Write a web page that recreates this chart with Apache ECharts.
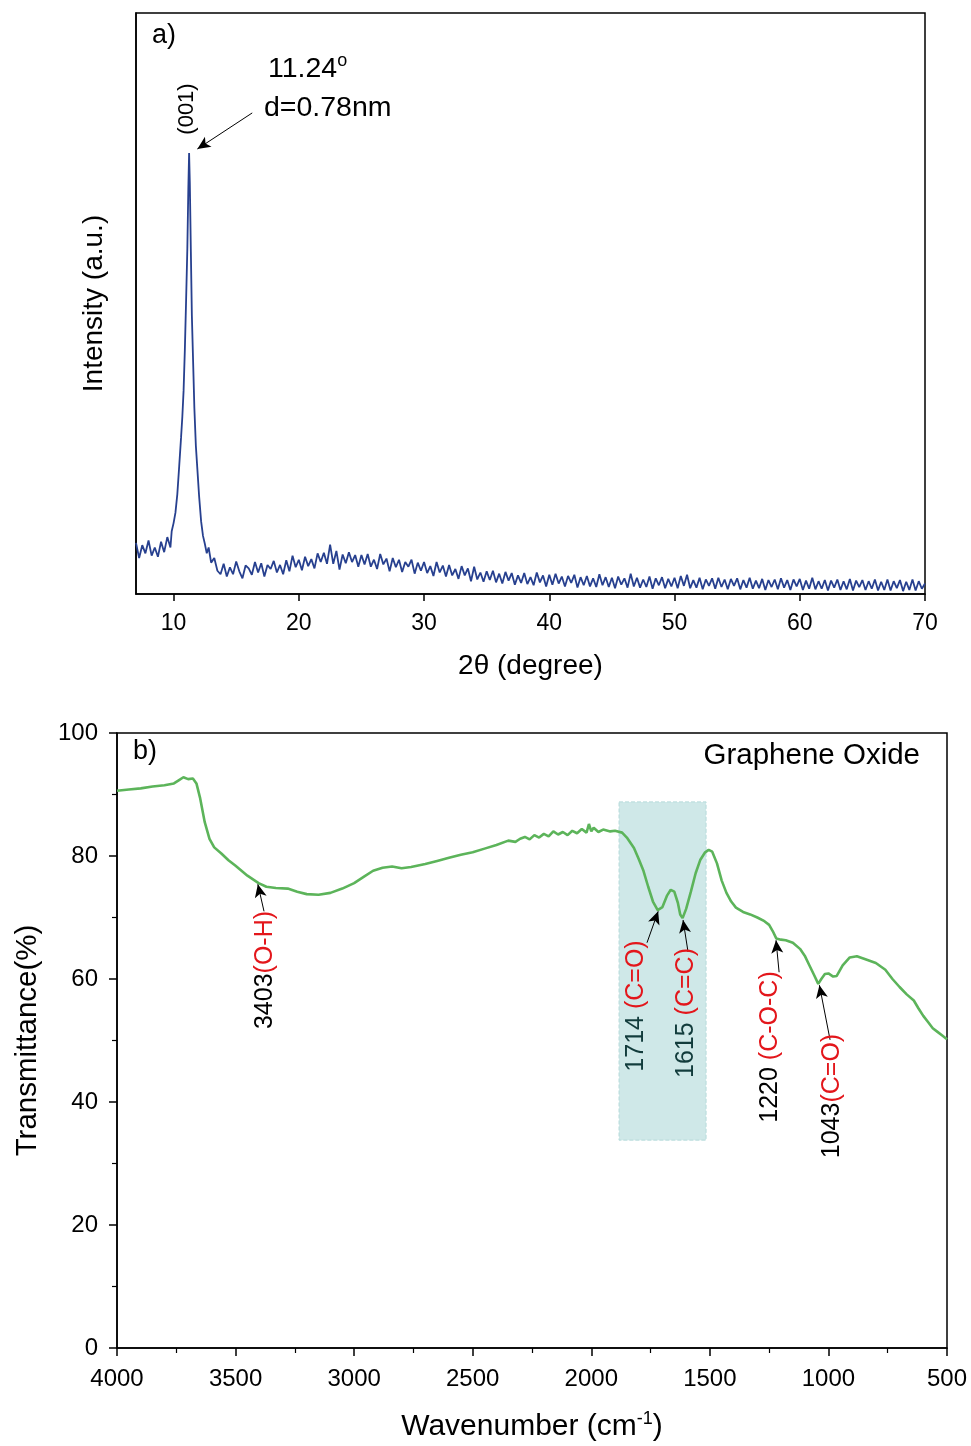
<!DOCTYPE html>
<html>
<head>
<meta charset="utf-8">
<script src="https://cdn.jsdelivr.net/npm/echarts@6/dist/echarts.min.js"></script>
<style>
  html, body { margin: 0; padding: 0; background: #fff; }
  #root { width: 971px; height: 1446px; }
</style>
</head>
<body>
<div id="root"></div>
<script>
// ---- a) XRD pattern ----
// 7.00 .. 9.75, step 0.25
var xrdLowStart = 7, xrdStep = 0.25;
var xrdLow = [88, 62, 84, 70, 92, 66, 80, 64, 90, 72, 98, 80];
// (001) peak region, read point by point
var xrdPeakAngle = [9.85, 10.0, 10.15, 10.3, 10.45, 10.6, 10.7, 10.8, 10.9, 11.0, 11.1, 11.18, 11.24,
  11.3, 11.38, 11.46, 11.56, 11.66, 11.78, 11.9, 12.04, 12.2, 12.35, 12.5, 12.65, 12.8, 13.0, 13.25, 13.5];
var xrdPeakIntensity = [108, 122, 140, 172, 220, 270, 305, 350, 420, 505, 595, 700, 759,
  705, 590, 480, 400, 320, 255, 215, 168, 125, 100, 86, 70, 80, 54, 62, 40];
// 13.75 .. 70.00, step 0.25
var xrdHighStart = 13.75;
var xrdHigh = [
  34,
  52, 30, 46, 34,  56, 39, 27, 49,  44, 33, 55, 37,  53, 30, 50, 43,  57, 37, 50, 34,
  58, 39, 66, 46,  59, 41, 64, 48,  60, 44, 70, 55,  71, 52, 85, 52,  74, 42, 68, 53,
  72, 55, 67, 47,  67, 51, 69, 47,  59, 43, 69, 51,  61, 39, 62, 46,  59, 38, 55, 47,
  59, 35, 54, 40,  55, 36, 48, 31,  55, 37, 49, 30,  50, 32, 43, 26,  48, 32, 44, 22,
  47, 25, 37, 21,  39, 24, 40, 20,  35, 18, 38, 23,  36, 16, 32, 19,  36, 17, 29, 15,
  37, 20, 32, 13,  33, 16, 35, 18,  30, 13, 31, 19,  33, 11, 29, 15,  31, 13, 27, 12,
  34, 15, 29, 12,  28, 10, 30, 16,  27, 11, 35, 13,  28, 11, 25, 12,  30, 9, 27, 15,
  29, 10, 26, 13,  28, 10, 31, 14,  33, 10, 24, 11,  28, 8, 25, 14,  27, 9, 28, 12,
  25, 8, 26, 14,  27, 8, 24, 11,  28, 9, 23, 10,  26, 7, 24, 12,  25, 8, 27, 11,
  24, 7, 25, 13,  26, 7, 23, 9,  28, 8, 22, 9,  24, 6, 23, 11,  25, 7, 22, 8,
  26, 6, 23, 12,  24, 7, 22, 9,  25, 6, 21, 7,  25, 6, 22, 10,  24, 5, 21, 7,
  25, 6, 22, 9,
  18
];

// ---- b) FTIR spectrum ----
var ftirWavenumber = [4000, 3950, 3900, 3850, 3800, 3760, 3740, 3720, 3700, 3680, 3665, 3650, 3630, 3610,
  3590, 3560, 3530, 3500, 3450, 3403, 3370, 3330, 3280, 3240, 3200, 3150, 3100, 3050, 3000, 2960, 2920,
  2880, 2840, 2800, 2760, 2700, 2650, 2600, 2550, 2500, 2450, 2400, 2350, 2320, 2300, 2280, 2260, 2240,
  2220, 2200, 2180, 2160, 2140, 2120, 2100, 2080, 2060, 2040, 2020, 2010, 2000, 1990, 1970, 1950, 1920,
  1900, 1870, 1850, 1820, 1800, 1780, 1760, 1740, 1720, 1714, 1700, 1680, 1665, 1650, 1635, 1625, 1615,
  1600, 1580, 1560, 1540, 1520, 1505, 1490, 1470, 1450, 1430, 1410, 1390, 1360, 1330, 1300, 1270, 1250,
  1235, 1220, 1200, 1180, 1150, 1120, 1100, 1080, 1060, 1043, 1030, 1015, 1000, 980, 965, 940, 910, 880,
  850, 800, 760, 730, 700, 670, 640, 620, 600, 580, 560, 540, 520, 500];
var ftirTransmittance = [90.6, 90.8, 91.0, 91.3, 91.5, 91.8, 92.3, 92.8, 92.5, 92.6, 91.8, 89.5, 85.5, 82.8,
  81.4, 80.4, 79.3, 78.4, 76.8, 75.6, 75.0, 74.8, 74.7, 74.2, 73.8, 73.7, 74.0, 74.7, 75.6, 76.6, 77.6,
  78.1, 78.3, 78.0, 78.2, 78.7, 79.2, 79.7, 80.2, 80.6, 81.2, 81.8, 82.5, 82.3, 82.8, 83.1, 82.7, 83.4,
  83.0, 83.6, 83.2, 84.0, 83.5, 83.9, 83.4, 84.1, 83.7, 84.4, 83.8, 85.2, 84.0, 84.6, 83.9, 84.3, 84.0,
  84.1, 83.8, 83.0, 81.3, 79.5, 77.6, 75.0, 72.6, 71.2, 71.1, 71.7, 73.6, 74.5, 74.2, 72.4, 70.5, 69.9,
  71.4, 74.2, 77.2, 79.4, 80.6, 81.0, 80.7, 78.8, 76.0, 74.0, 72.6, 71.6, 70.9, 70.5, 70.0, 69.4, 68.8,
  67.8, 66.6, 66.4, 66.3, 65.9, 64.9, 63.8, 62.2, 60.6, 59.2, 60.0, 60.8, 60.9, 60.4, 60.5, 62.2, 63.5, 63.7,
  63.3, 62.6, 61.5, 60.0, 58.7, 57.5, 56.5, 55.2, 54.0, 53.0, 52.0, 51.4, 50.8, 50.2];

var xrdTicks = [10, 20, 30, 40, 50, 60, 70];

var xrdData = [];
xrdLow.forEach(function (v, i) { xrdData.push([xrdLowStart + i * xrdStep, v]); });
xrdPeakAngle.forEach(function (a, i) { xrdData.push([a, xrdPeakIntensity[i]]); });
xrdHigh.forEach(function (v, i) { xrdData.push([xrdHighStart + i * xrdStep, v]); });
var ftirData = ftirWavenumber.map(function (w, i) { return [w, ftirTransmittance[i]]; });

var FONT = '"Liberation Sans", Arial, sans-serif';
var chart = echarts.init(document.getElementById('root'));

var arrowLine = {
  symbol: ['none', 'arrow'],
  symbolSize: [9, 13],
  silent: true,
  label: { show: false },
  lineStyle: { color: '#000', width: 1, type: 'solid' }
};

function rotLabel(x, y, num, group, numColor, gap) {
  return {
    type: 'text', x: x, y: y, z: 50, rotation: Math.PI / 2,
    style: {
      text: '{n|' + num + gap + '}{g|' + group + '}', align: 'center', verticalAlign: 'middle',
      rich: {
        n: { fontFamily: FONT, fontSize: 25, fill: numColor },
        g: { fontFamily: FONT, fontSize: 25, fill: '#e3161b' }
      }
    }
  };
}

chart.setOption({
  animation: false,
  backgroundColor: '#fff',
  grid: [
    { left: 136, top: 13, width: 789, height: 581, show: true, borderColor: '#000', borderWidth: 1.5 },
    { left: 117, top: 733, width: 830, height: 615, show: true, borderColor: '#000', borderWidth: 1.5 }
  ],
  xAxis: [
    {
      gridIndex: 0, type: 'value', min: 7, max: 70,
      name: '2\u03b8 (degree)', nameLocation: 'middle', nameGap: 58,
      nameTextStyle: { fontFamily: FONT, fontSize: 28, color: '#000' },
      axisLine: { lineStyle: { color: '#000', width: 1.5 } },
      axisTick: { show: true, length: 7, customValues: xrdTicks, lineStyle: { color: '#000', width: 1.5 } },
      axisLabel: { customValues: xrdTicks, margin: 18, fontFamily: FONT, fontSize: 23, color: '#000' },
      splitLine: { show: false }
    },
    {
      gridIndex: 1, type: 'value', min: 500, max: 4000, interval: 500, inverse: true,
      name: 'Wavenumber (cm{sup|-1})', nameLocation: 'middle', nameGap: 62,
      nameTextStyle: {
        fontFamily: FONT, fontSize: 30, color: '#000',
        rich: { sup: { fontFamily: FONT, fontSize: 18, color: '#000', verticalAlign: 'top', padding: [0, 0, 15, 0] } }
      },
      axisLine: { lineStyle: { color: '#000', width: 1.5 } },
      axisTick: { show: true, length: 8, lineStyle: { color: '#000', width: 1.5 } },
      minorTick: { show: true, splitNumber: 2, length: 5, lineStyle: { color: '#000', width: 1.2 } },
      axisLabel: { margin: 19, fontFamily: FONT, fontSize: 24, color: '#000', formatter: function (v) { return String(v); } },
      splitLine: { show: false }
    }
  ],
  yAxis: [
    {
      gridIndex: 0, type: 'value', min: 0, max: 1000,
      name: 'Intensity (a.u.)', nameLocation: 'middle', nameGap: 28,
      nameTextStyle: { fontFamily: FONT, fontSize: 28, color: '#000' },
      axisLine: { show: true, lineStyle: { color: '#000', width: 1.5 } },
      axisTick: { show: false }, axisLabel: { show: false }, splitLine: { show: false }
    },
    {
      gridIndex: 1, type: 'value', min: 0, max: 100, interval: 20,
      name: 'Transmittance(%)', nameLocation: 'middle', nameGap: 74,
      nameTextStyle: { fontFamily: FONT, fontSize: 29.5, color: '#000' },
      axisLine: { show: true, lineStyle: { color: '#000', width: 1.5 } },
      axisTick: { show: true, length: 8, lineStyle: { color: '#000', width: 1.5 } },
      minorTick: { show: true, splitNumber: 2, length: 5, lineStyle: { color: '#000', width: 1.2 } },
      axisLabel: { margin: 19, fontFamily: FONT, fontSize: 24, color: '#000' },
      splitLine: { show: false }
    }
  ],
  series: [
    {
      type: 'line', xAxisIndex: 0, yAxisIndex: 0, data: xrdData, showSymbol: false, z: 3,
      lineStyle: { color: '#27408f', width: 1.8 }
    },
    {
      type: 'line', xAxisIndex: 0, yAxisIndex: 0, data: [], z: 4,
      markLine: Object.assign({}, arrowLine, {
        data: [[{ coord: [16.28, 828] }, { coord: [11.9, 766] }]]
      })
    },
    {
      type: 'line', xAxisIndex: 1, yAxisIndex: 1, data: [], z: 1,
      markArea: {
        silent: true,
        itemStyle: { color: '#cfe8e8', borderColor: '#b5dada', borderWidth: 1, borderType: 'dashed' },
        data: [[{ coord: [1883, 88.8] }, { coord: [1516, 33.8] }]]
      }
    },
    {
      type: 'line', xAxisIndex: 1, yAxisIndex: 1, data: ftirData, showSymbol: false, z: 3,
      lineStyle: { color: '#5cb45a', width: 2.6 }
    },
    {
      type: 'line', xAxisIndex: 1, yAxisIndex: 1, data: [], z: 4,
      markLine: Object.assign({}, arrowLine, {
        data: [
          [{ coord: [3380, 71.0] }, { coord: [3406, 75.4] }],
          [{ coord: [1765, 65.9] }, { coord: [1718, 71.0] }],
          [{ coord: [1592, 64.4] }, { coord: [1613, 69.6] }],
          [{ coord: [1208, 61.1] }, { coord: [1221, 66.3] }],
          [{ coord: [993, 50.1] }, { coord: [1038, 59.0] }]
        ]
      })
    }
  ],
  graphic: [
    { type: 'text', x: 152, y: 36, z: 50, style: { text: 'a)', font: '27px ' + FONT, fill: '#000', verticalAlign: 'middle' } },
    {
      type: 'text', x: 268, y: 69, z: 50,
      style: {
        text: '{m|11.24}{s|o}', verticalAlign: 'middle',
        rich: {
          m: { fontFamily: FONT, fontSize: 28.5, fill: '#000' },
          s: { fontFamily: FONT, fontSize: 18, fill: '#000', verticalAlign: 'top', padding: [0, 0, 15, 0] }
        }
      }
    },
    { type: 'text', x: 264, y: 108, z: 50, style: { text: 'd=0.78nm', font: '28.5px ' + FONT, fill: '#000', verticalAlign: 'middle' } },
    { type: 'text', x: 187, y: 109, z: 50, rotation: Math.PI / 2, style: { text: '(001)', font: '22px ' + FONT, fill: '#000', align: 'center', verticalAlign: 'middle' } },

    { type: 'text', x: 133, y: 752, z: 50, style: { text: 'b)', font: '27px ' + FONT, fill: '#000', verticalAlign: 'middle' } },
    { type: 'text', x: 920, y: 756, z: 50, style: { text: 'Graphene Oxide', font: '29.5px ' + FONT, fill: '#000', align: 'right', verticalAlign: 'middle' } },
    rotLabel(265, 970, '3403', '(O-H)', '#000', ''),
    rotLabel(636, 1006, '1714', '(C=O)', '#123c3c', ' '),
    rotLabel(686, 1013, '1615', '(C=C)', '#123c3c', ' '),
    rotLabel(770, 1047, '1220', '(C-O-C)', '#000', ' '),
    rotLabel(832, 1096, '1043', '(C=O)', '#000', '')
  ]
});
</script>
</body>
</html>
